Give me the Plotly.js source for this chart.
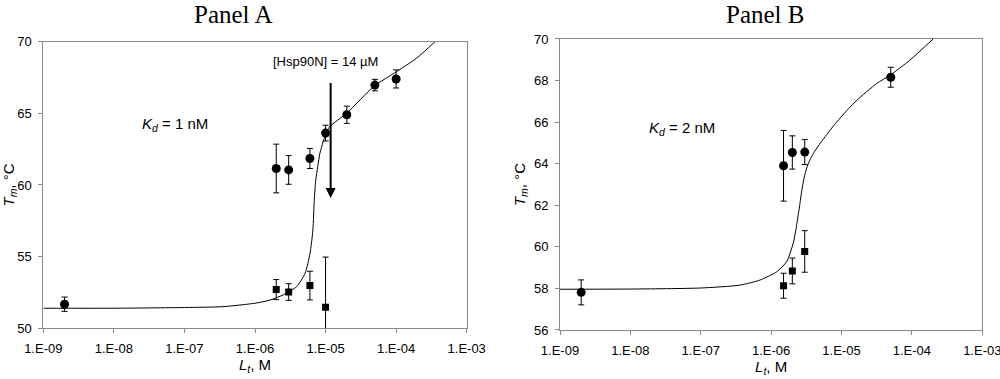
<!DOCTYPE html>
<html>
<head>
<meta charset="utf-8">
<script src="https://cdn.plot.ly/plotly-3.0.1.min.js"></script>
<style>html,body{margin:0;padding:0;background:#fff;}#chart{width:1000px;height:379px;}</style>
</head>
<body>
<div id="chart"></div>
<script>
// ---------- Panel A data ----------
const xCircA = [2e-9, 2e-6, 3e-6, 6e-6, 1e-5, 2e-5, 5e-5, 1e-4];
const yCircA = [51.68, 61.15, 61.05, 61.85, 63.62, 64.9, 66.97, 67.4];
const eCircA = [0.5, 1.7, 1.0, 0.7, 0.55, 0.6, 0.4, 0.63];
const xSqA = [2e-6, 3e-6, 6e-6, 1e-5];
const ySqA = [52.7, 52.53, 52.98, 51.47];
const eSqA = [0.7, 0.58, 1.0, 3.5];
const xFitA = [1e-9, 1e-8, 1e-7, 3.55e-7, 1e-6, 1.58e-6, 2.51e-6, 3.89e-6, 5.13e-6, 6.03e-6, 6.61e-6, 6.92e-6, 7.24e-6, 7.76e-6, 8.32e-6, 9.77e-6, 1.15e-5, 2.0e-5, 4.79e-5, 1.02e-4, 1.95e-4, 3.55e-4];
const yFitA = [51.40, 51.40, 51.45, 51.51, 51.75, 51.95, 52.33, 52.91, 53.84, 55.24, 56.86, 58.96, 60.3, 61.3, 62.22, 63.38, 64.08, 65.01, 66.87, 67.92, 68.85, 70.0];

// ---------- Panel B data ----------
const xCircB = [2e-9, 1.5e-6, 2e-6, 3e-6, 5e-5];
const yCircB = [57.81, 63.9, 64.54, 64.56, 68.16];
const eCircB = [0.6, 1.7, 0.8, 0.6, 0.48];
const xSqB = [1.5e-6, 2e-6, 3e-6];
const ySqB = [58.13, 58.84, 59.78];
const eSqB = [0.6, 0.62, 1.0];
const xFitB = [1e-9, 1e-8, 1e-7, 3.63e-7, 6.92e-7, 1.2e-6, 1.66e-6, 1.86e-6, 2.07e-6, 2.24e-6, 2.43e-6, 2.57e-6, 2.72e-6, 2.93e-6, 3.24e-6, 3.63e-6, 4.17e-6, 5.01e-6, 6.17e-6, 7.59e-6, 9.55e-6, 1.26e-5, 1.66e-5, 3.16e-5, 4.9e-5, 9.33e-5, 2.0e-4];
const yFitB = [57.96, 57.97, 58.02, 58.16, 58.40, 58.80, 59.28, 59.7, 60.2, 60.8, 61.55, 62.1, 62.7, 63.3, 63.85, 64.25, 64.6, 65.0, 65.4, 65.8, 66.2, 66.65, 67.06, 67.86, 68.26, 68.98, 70.0];

// ---------- Labels ----------
const xTickVals = [1e-9, 1e-8, 1e-7, 1e-6, 1e-5, 1e-4, 1e-3];
const xTickText = ["1.E-09", "1.E-08", "1.E-07", "1.E-06", "1.E-05", "1.E-04", "1.E-03"];
const yTicksA = [50, 55, 60, 65, 70];
const yTicksB = [56, 58, 60, 62, 64, 66, 68, 70];
const panelTitles = ["Panel A", "Panel B"];
const kdLabels = ["<i>K<sub>d</sub></i> = 1 nM", "<i>K<sub>d</sub></i> = 2 nM"];
const hspLabel = "[Hsp90N] = 14 µM";
const hspConc = 1.18e-5;

const black = "#000";
function errTrace(x, y, e, sym, size, xa, ya) {
  return {
    x: x, y: y, type: "scatter", mode: "markers", xaxis: xa, yaxis: ya,
    marker: {symbol: sym, size: size, color: black},
    error_y: {type: "data", array: e, visible: true, color: black, thickness: 1, width: 3},
    showlegend: false, hoverinfo: "skip"
  };
}
function fitTrace(x, y, xa, ya) {
  return {x: x, y: y, type: "scatter", mode: "lines", xaxis: xa, yaxis: ya,
    line: {color: black, width: 1, shape: "spline", smoothing: 0.6}, showlegend: false, hoverinfo: "skip"};
}

const data = [
  fitTrace(xFitA, yFitA, "x", "y"),
  errTrace(xCircA, yCircA, eCircA, "circle", 9, "x", "y"),
  errTrace(xSqA, ySqA, eSqA, "square", 7, "x", "y"),
  fitTrace(xFitB, yFitB, "x2", "y2"),
  errTrace(xCircB, yCircB, eCircB, "circle", 9, "x2", "y2"),
  errTrace(xSqB, ySqB, eSqB, "square", 7, "x2", "y2")
];

const axisFont = {family: "Arial, Liberation Sans, sans-serif", size: 13, color: black};
const grey = "#8a8a8a";
function xAxis(domain, anchor) {
  return {
    domain: domain, anchor: anchor, type: "log", range: [-9, -3],
    tickmode: "array", tickvals: xTickVals, ticktext: xTickText,
    showline: true, linecolor: grey, linewidth: 1, mirror: true,
    ticks: "outside", ticklen: 4, tickcolor: grey, tickwidth: 1,
    showgrid: false, zeroline: false, tickfont: axisFont, ticklabelstandoff: 4,
    ticklabeloverflow: "allow",
    title: {text: "<i>L<sub>t</sub></i>, M", font: {family: "Arial, Liberation Sans, sans-serif", size: 15, color: black}, standoff: 4}
  };
}
function yAxis(domain, anchor, range, ticks) {
  return {
    domain: domain, anchor: anchor, range: range,
    tickmode: "array", tickvals: ticks,
    showline: true, linecolor: grey, linewidth: 1, mirror: true,
    ticks: "outside", ticklen: 4, tickcolor: grey, tickwidth: 1,
    showgrid: false, zeroline: false, tickfont: axisFont, ticklabelstandoff: 4,
    title: {text: "<i>T<sub>m</sub></i>, °C", font: {family: "Arial, Liberation Sans, sans-serif", size: 15, color: black}, standoff: 4}
  };
}

const annFont = {family: "Arial, Liberation Sans, sans-serif", size: 15, color: black};
const titleFont = {family: "Liberation Serif, Times New Roman, serif", size: 25, color: black};
const layout = {
  width: 1000, height: 379,
  margin: {l: 0, r: 0, t: 0, b: 0},
  paper_bgcolor: "#fff", plot_bgcolor: "#fff",
  xaxis: xAxis([0.0433, 0.4667], "y"),
  yaxis: yAxis([0.1338, 0.890], "x", [50, 70], yTicksA),
  xaxis2: xAxis([0.560, 0.9823], "y2"),
  yaxis2: yAxis([0.1293, 0.8971], "x2", [56, 70], yTicksB),
  annotations: [
    {text: panelTitles[0], xref: "paper", yref: "paper", x: 0.233, y: 1, xanchor: "center", yanchor: "top",
     showarrow: false, borderpad: 0, font: titleFont},
    {text: panelTitles[1], xref: "paper", yref: "paper", x: 0.765, y: 1, xanchor: "center", yanchor: "top",
     showarrow: false, borderpad: 0, font: titleFont},
    {text: kdLabels[0], xref: "x", yref: "y", x: -7.63, y: 64.2, xanchor: "left", yanchor: "middle", showarrow: false, font: annFont},
    {text: kdLabels[1], xref: "x2", yref: "y2", x: -7.77, y: 65.7, xanchor: "left", yanchor: "middle", showarrow: false, font: annFont},
    {text: hspLabel, xref: "x", yref: "y", x: Math.log10(hspConc) - 0.07, y: 68.6, xanchor: "center", yanchor: "middle", showarrow: false,
     font: {family: "Arial, Liberation Sans, sans-serif", size: 13, color: black}},
    {text: "", xref: "x", yref: "y", x: Math.log10(hspConc), y: 59.1, axref: "x", ayref: "y", ax: Math.log10(hspConc), ay: 67.22,
     showarrow: true, arrowhead: 2, arrowsize: 1, arrowwidth: 2, arrowcolor: black}
  ]
};

Plotly.newPlot("chart", data, layout, {staticPlot: true, displayModeBar: false});
</script>
</body>
</html>
